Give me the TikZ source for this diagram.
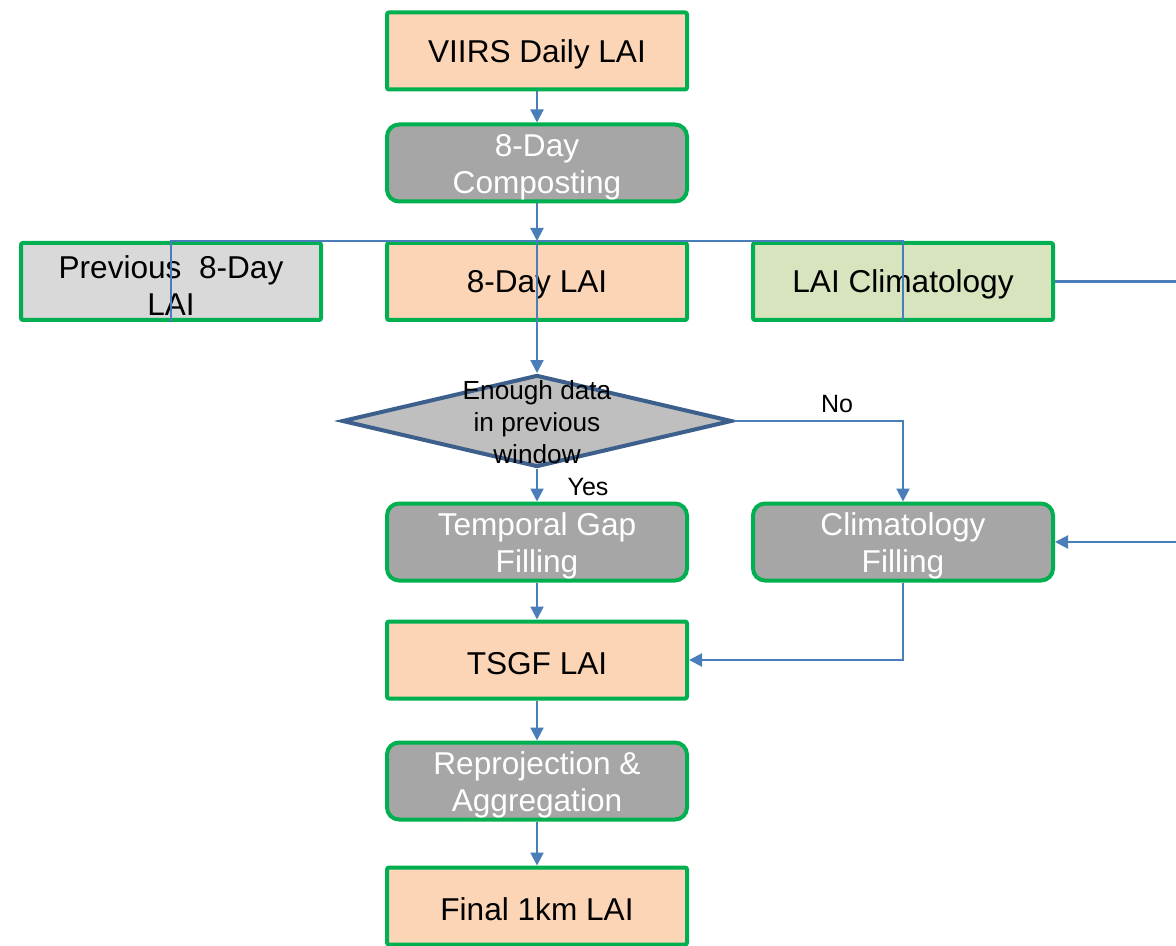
\documentclass[tikz,border=0pt]{standalone}
\usepackage{fontspec}
\setmainfont{Liberation Sans}
\usetikzlibrary{arrows.meta,shapes.geometric}
\definecolor{peach}{HTML}{FBD5B5}
\definecolor{procgray}{HTML}{A6A6A6}
\definecolor{lightgr}{HTML}{D9D9D9}
\definecolor{climgreen}{HTML}{D7E4BD}
\definecolor{bordergreen}{HTML}{00B050}
\definecolor{linkblue}{HTML}{4A7EBB}
\definecolor{diaborder}{HTML}{3C5F8C}
\definecolor{diafill}{HTML}{BFBFBF}
\newcommand\onestrut{\rule{0pt}{14.3pt}}
\newcommand\twostrut{\rule{0pt}{15.5pt}}
\tikzset{
  boxbase/.style={draw=bordergreen, line width=2pt, minimum width=150pt, minimum height=38.5pt,
    inner sep=0pt, align=center, font=\fontsize{15.8}{18.5}\selectfont},
  databox/.style={boxbase, fill=peach, rounded corners=1pt, text=black},
  procbox/.style={boxbase, fill=procgray, rounded corners=6pt, text=white},
  link/.style={draw=linkblue, line width=1.1pt},
  arr/.style={link, -{Triangle[length=6.5pt,width=6.5pt]}},
  lbl/.style={font=\fontsize{12.5}{15}\selectfont, inner sep=0pt}
}
\begin{document}
\begin{tikzpicture}[x=0.5pt,y=-0.5pt]
\useasboundingbox (0,0) rectangle (1176,946);
% nodes
\node[databox] (viirs) at (537,51) {\onestrut VIIRS Daily LAI};
\node[procbox] (comp) at (537,163) {\twostrut 8-Day\\Composting};
\node[databox, fill=lightgr] (prev) at (171,281.5) {\twostrut Previous\ \ 8-Day\\LAI};
\node[databox] (lai8) at (537,281.5) {\onestrut 8-Day LAI};
\node[databox, fill=climgreen] (clim) at (903,281.5) {\onestrut LAI Climatology};
\node[diamond, draw=diaborder, fill=diafill, line width=2pt, minimum width=195pt, minimum height=46pt, inner sep=0pt] (dia) at (537,421) {};
\node[align=center, font=\fontsize{13.1}{16}\selectfont, inner sep=0pt] (diatext) at (537,422) {Enough data\\in previous\\window};
\node[procbox] (tgf) at (537,542) {\twostrut Temporal Gap\\Filling};
\node[procbox] (cf) at (903,542) {\twostrut Climatology\\Filling};
\node[databox] (tsgf) at (537,660) {\onestrut TSGF LAI};
\node[procbox] (rep) at (537,781) {\twostrut Reprojection \&\\Aggregation};
\node[databox] (final) at (537,906) {\onestrut Final 1km LAI};
\coordinate (redge1) at (1176,281.5);
\coordinate (redge2) at (1176,542);
% connectors
\draw[arr] (viirs.south) -- (comp.north);
\draw[arr] (comp.south) -- (lai8.north);
\draw[link] (prev.south) -- (prev.north) -- (clim.north) -- (clim.south);
\draw[arr] (lai8.north) -- (dia.north);
\draw[link] (clim.east) -- (redge1);
\draw[arr] (redge2) -- (cf.east);
\draw[arr] (dia.east) -- (dia.east -| cf.north) -- (cf.north);
\draw[arr] (dia.south) -- (tgf.north);
\draw[arr] (tgf.south) -- (tsgf.north);
\draw[arr] (cf.south) -- (cf.south |- tsgf.east) -- (tsgf.east);
\draw[arr] (tsgf.south) -- (rep.north);
\draw[arr] (rep.south) -- (final.north);
\node[lbl] (nolbl) at (837,404) {No};
\node[lbl] (yeslbl) at (588,487) {Yes};
\end{tikzpicture}
\end{document}
